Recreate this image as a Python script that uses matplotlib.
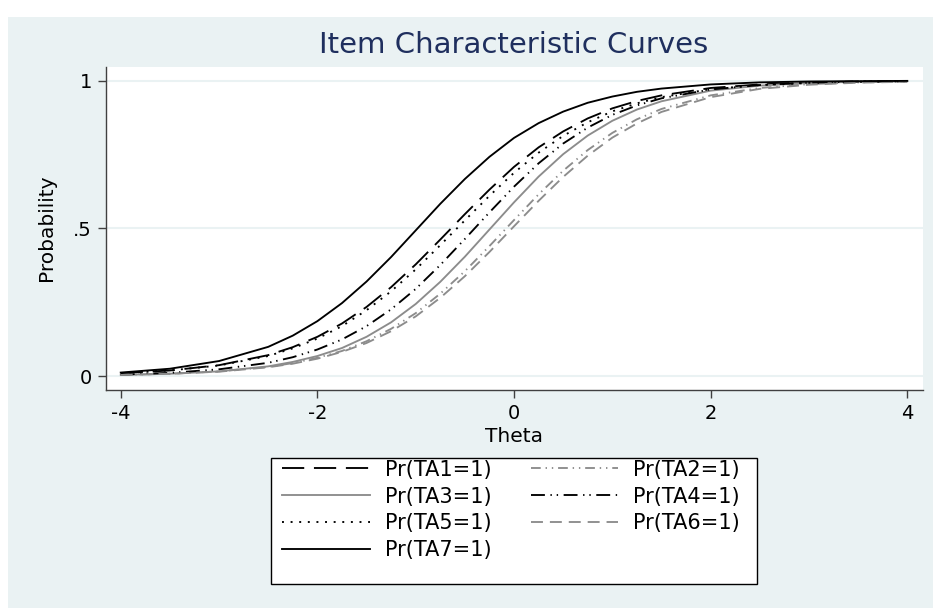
import matplotlib
matplotlib.use('Agg')
import matplotlib.pyplot as plt
from matplotlib.patches import Rectangle

plt.rcParams['lines.scale_dashes'] = False

# theta grid and curve values
theta = [-4, -3.5, -3, -2.5, -2.25, -2, -1.75, -1.5, -1.25, -1, -0.75, -0.5, -0.25,
         0, 0.25, 0.5, 0.75, 1, 1.25, 1.5, 2, 2.5, 3, 3.5, 4]

ta1 = [0.010, 0.019, 0.037, 0.071, 0.098, 0.133, 0.178, 0.234, 0.301, 0.378, 0.462, 0.548, 0.631,
       0.708, 0.774, 0.828, 0.872, 0.906, 0.931, 0.950, 0.975, 0.987, 0.994, 0.997, 0.998]
ta2 = [0.004, 0.008, 0.016, 0.031, 0.044, 0.062, 0.085, 0.118, 0.160, 0.213, 0.279, 0.355, 0.440,
       0.528, 0.615, 0.695, 0.765, 0.823, 0.869, 0.904, 0.950, 0.975, 0.988, 0.994, 0.997]
ta3 = [0.004, 0.008, 0.016, 0.033, 0.048, 0.068, 0.095, 0.133, 0.182, 0.244, 0.319, 0.404, 0.496,
       0.588, 0.675, 0.751, 0.814, 0.864, 0.902, 0.930, 0.966, 0.983, 0.992, 0.996, 0.998]
ta4 = [0.005, 0.011, 0.023, 0.045, 0.064, 0.090, 0.124, 0.169, 0.226, 0.295, 0.376, 0.464, 0.554,
       0.641, 0.720, 0.787, 0.841, 0.884, 0.916, 0.940, 0.970, 0.985, 0.993, 0.997, 0.998]
ta5 = [0.010, 0.019, 0.036, 0.068, 0.094, 0.127, 0.169, 0.223, 0.287, 0.361, 0.443, 0.527, 0.610,
       0.688, 0.756, 0.813, 0.859, 0.896, 0.923, 0.944, 0.971, 0.985, 0.992, 0.996, 0.998]
ta6 = [0.004, 0.008, 0.015, 0.030, 0.042, 0.059, 0.082, 0.112, 0.152, 0.202, 0.265, 0.338, 0.420,
       0.507, 0.593, 0.674, 0.746, 0.807, 0.855, 0.894, 0.944, 0.972, 0.986, 0.993, 0.996]
ta7 = [0.012, 0.025, 0.051, 0.099, 0.137, 0.186, 0.247, 0.320, 0.403, 0.493, 0.583, 0.667, 0.742,
       0.806, 0.856, 0.895, 0.925, 0.946, 0.962, 0.973, 0.987, 0.994, 0.997, 0.998, 0.999]

labels = ['Pr(TA1=1)', 'Pr(TA2=1)', 'Pr(TA3=1)', 'Pr(TA4=1)', 'Pr(TA5=1)', 'Pr(TA6=1)', 'Pr(TA7=1)']
series = [ta1, ta2, ta3, ta4, ta5, ta6, ta7]

blk = 'black'
gry = '#8c8c8c'
colors = [blk, gry, gry, blk, blk, gry, blk]
dashes = [(0, (16, 7)),
          (0, (7, 3.5, 1, 3.5, 1, 3.5)),
          'solid',
          (0, (10, 4, 1, 3.5, 1, 4)),
          (0, (1.4, 4.8)),
          (0, (8.6, 5)),
          'solid']

W, H = 933, 608
fig = plt.figure(figsize=(W / 100, H / 100), dpi=100)
# light panel behind everything
fig.patches.append(Rectangle((8 / W, 0), 1 - 8 / W, 1 - 17 / H, transform=fig.transFigure,
                             facecolor='#eaf2f3', edgecolor='none', zorder=-10))

ax = fig.add_axes([106 / W, 1 - 390 / H, (923 - 106) / W, (390 - 67) / H])
ax.set_facecolor('white')

lines = []
for y, c, ls, lab in zip(series, colors, dashes, labels):
    l, = ax.plot(theta, y, color=c, linestyle=ls, linewidth=1.35, label=lab)
    lines.append(l)

ax.set_xlim(-4.15, 4.16)
ax.set_ylim(-0.047, 1.046)
ax.set_xticks([-4, -2, 0, 2, 4])
ax.set_xticklabels(['-4', '-2', '0', '2', '4'])
ax.set_yticks([0, 0.5, 1])
ax.set_yticklabels(['0', '.5', '1'])
ax.tick_params(labelsize=14, length=6, width=1, color='#404040', pad=4)
ax.yaxis.grid(True, color='#eaf2f3', linewidth=1.5)
ax.set_axisbelow(True)
for s in ['top', 'right']:
    ax.spines[s].set_visible(False)
for s in ['left', 'bottom']:
    ax.spines[s].set_color('#404040')
    ax.spines[s].set_linewidth(1)

fig.text(514 / W, 1 - 45 / H, 'Item Characteristic Curves', ha='center', va='center',
         fontsize=21, color='#1f2f5e')
fig.text(514 / W, 1 - 437 / H, 'Theta', ha='center', va='center', fontsize=14.5)
fig.text(47 / W, 1 - 228 / H, 'Probability', ha='center', va='center', fontsize=14.5, rotation=90)

# legend box drawn on its own, entries placed inside it
fig.patches.append(Rectangle((271 / W, 1 - 584 / H), (757 - 271) / W, (584 - 458) / H,
                             transform=fig.transFigure, facecolor='white',
                             edgecolor='black', linewidth=1.0, zorder=1))
order = [0, 2, 4, 6, 1, 3, 5]
leg = fig.legend([lines[i] for i in order], [labels[i] for i in order], ncol=2,
                 loc='upper center', bbox_to_anchor=(511 / W, 1 - 441 / H), fontsize=15,
                 frameon=False, handlelength=4.2, handletextpad=0.7, columnspacing=1.9,
                 labelspacing=0.33, borderpad=0.4)
leg.set_zorder(2)

fig.savefig('out.png', dpi=100)
